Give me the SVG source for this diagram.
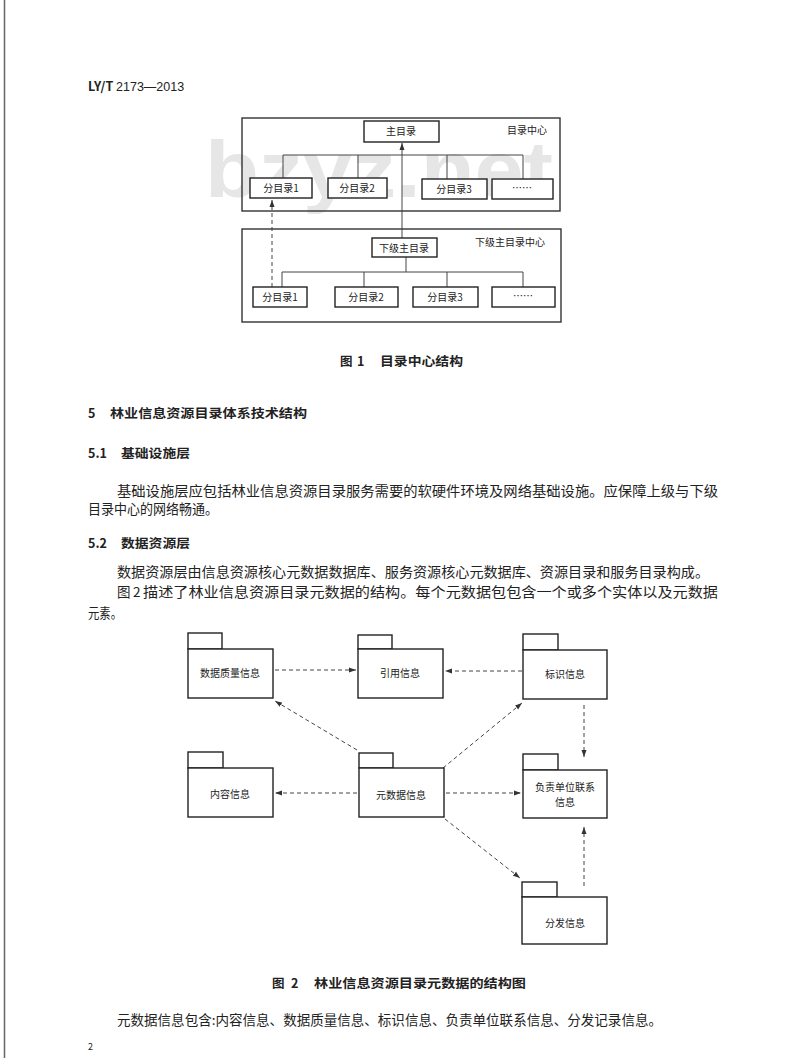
<svg xmlns="http://www.w3.org/2000/svg" width="800" height="1058" viewBox="0 0 800 1058">
<style>
.bg{fill:#ffffff}
.box{fill:#ffffff;stroke:#222;stroke-width:1.4}
.frame{fill:none;stroke:#333;stroke-width:1.4}
.ln{fill:none;stroke:#444;stroke-width:1}
.dash{fill:none;stroke:#444;stroke-width:1;stroke-dasharray:4 3}
.t{font-family:"Noto Sans CJK SC","Liberation Sans",sans-serif;fill:#222}
.s{font-size:10px}
.b{font-size:13.5px}
.h{font-size:12.5px;font-weight:bold}
.wm{font-family:"Liberation Sans",sans-serif;font-weight:bold;font-size:80px;fill:#e6e6e6}
</style>
<defs>
<marker id="ah" markerWidth="8" markerHeight="6" refX="7" refY="3" orient="auto" markerUnits="userSpaceOnUse">
<path d="M0,0.5 L7,3 L0,5.5 Z" fill="#333"/>
</marker>
</defs>
<rect class="bg" x="0" y="0" width="800" height="1058"/>
<line x1="4.5" y1="0" x2="4.5" y2="1058" stroke="#666" stroke-width="1.5"/>
<text class="t" x="88" y="91" font-size="12.5" font-family="Liberation Serif" font-weight="bold">LY/T <tspan font-weight="normal" font-family="Liberation Sans">2173—2013</tspan></text>
<text class="wm" x="205" y="197" textLength="348" lengthAdjust="spacingAndGlyphs">bzyz.net</text>

<!-- Figure 1 -->
<g id="fig1-top">
<rect class="frame" x="242" y="118" width="318" height="93"/>
<text class="t s" x="507" y="134">目录中心</text>
</g>
<g id="fig1-bottom">
<rect class="frame" x="242" y="229" width="319" height="93"/>
<text class="t s" x="475" y="246">下级主目录中心</text>
</g>
<g id="connectors-fig1">
<path class="ln" d="M283,155 H523 M283,155 V178 M358,155 V178 M447,155 V179 M523,155 V179"/>
<path class="ln" d="M406,257 V272 M282,272 H523 M282,272 V287 M364,272 V287 M447,272 V287 M523,272 V287"/>
<line class="ln" x1="402" y1="238" x2="402" y2="143" marker-end="url(#ah)"/>
<line class="dash" x1="272" y1="287" x2="272" y2="200" marker-end="url(#ah)"/>
</g>
<g id="n-main"><rect class="box" x="364" y="121" width="75" height="21"/><text class="t s" x="401" y="135" text-anchor="middle">主目录</text></g>
<g id="n-sub1"><rect class="box" x="250" y="178" width="62" height="20"/><text class="t s" x="281" y="192" text-anchor="middle">分目录1</text></g>
<g id="n-sub2"><rect class="box" x="328" y="178" width="59" height="20"/><text class="t s" x="357" y="192" text-anchor="middle">分目录2</text></g>
<g id="n-sub3"><rect class="box" x="422" y="179" width="65" height="20"/><text class="t s" x="454" y="193" text-anchor="middle">分目录3</text></g>
<g id="n-sub4"><rect class="box" x="492" y="179" width="61" height="20"/><text class="t s" x="522" y="192" text-anchor="middle">……</text></g>
<g id="n-lmain"><rect class="box" x="372" y="238" width="65" height="19"/><text class="t s" x="404" y="252" text-anchor="middle">下级主目录</text></g>
<g id="n-lsub1"><rect class="box" x="253" y="287" width="54" height="20"/><text class="t s" x="280" y="301" text-anchor="middle">分目录1</text></g>
<g id="n-lsub2"><rect class="box" x="335" y="287" width="63" height="20"/><text class="t s" x="366" y="301" text-anchor="middle">分目录2</text></g>
<g id="n-lsub3"><rect class="box" x="413" y="287" width="65" height="20"/><text class="t s" x="445" y="301" text-anchor="middle">分目录3</text></g>
<g id="n-lsub4"><rect class="box" x="492" y="287" width="63" height="20"/><text class="t s" x="523" y="300" text-anchor="middle">……</text></g>

<text class="t h" y="366"><tspan x="340">图</tspan><tspan x="357">1</tspan><tspan x="380" textLength="83" lengthAdjust="spacingAndGlyphs">目录中心结构</tspan></text>

<text class="t h" y="418"><tspan x="88">5</tspan><tspan x="110" textLength="197" lengthAdjust="spacingAndGlyphs">林业信息资源目录体系技术结构</tspan></text>
<text class="t h" y="458"><tspan x="88">5.1</tspan><tspan x="121" textLength="69" lengthAdjust="spacingAndGlyphs">基础设施层</tspan></text>
<text class="t b" x="117" y="496" textLength="601" lengthAdjust="spacingAndGlyphs">基础设施层应包括林业信息资源目录服务需要的软硬件环境及网络基础设施。应保障上级与下级</text>
<text class="t b" x="88" y="514" textLength="130" lengthAdjust="spacingAndGlyphs">目录中心的网络畅通。</text>
<text class="t h" y="548"><tspan x="88">5.2</tspan><tspan x="121" textLength="69" lengthAdjust="spacingAndGlyphs">数据资源层</tspan></text>
<text class="t b" x="117" y="577" textLength="592" lengthAdjust="spacingAndGlyphs">数据资源层由信息资源核心元数据数据库、服务资源核心元数据库、资源目录和服务目录构成。</text>
<text class="t b" y="597"><tspan x="117">图</tspan><tspan x="133">2</tspan><tspan x="143" textLength="575" lengthAdjust="spacingAndGlyphs">描述了林业信息资源目录元数据的结构。每个元数据包包含一个或多个实体以及元数据</tspan></text>
<text class="t b" x="88" y="618" textLength="34" lengthAdjust="spacingAndGlyphs">元素。</text>

<!-- Figure 2 -->
<g id="connectors-fig2">
<line class="dash" x1="275" y1="670" x2="356" y2="670" marker-end="url(#ah)"/>
<line class="dash" x1="522" y1="671" x2="445" y2="671" marker-end="url(#ah)"/>
<line class="dash" x1="357" y1="750" x2="275" y2="701" marker-end="url(#ah)"/>
<line class="dash" x1="443" y1="768" x2="522" y2="703" marker-end="url(#ah)"/>
<line class="dash" x1="584" y1="705" x2="584" y2="757" marker-end="url(#ah)"/>
<line class="dash" x1="357" y1="793" x2="275" y2="793" marker-end="url(#ah)"/>
<line class="dash" x1="446" y1="793" x2="521" y2="793" marker-end="url(#ah)"/>
<line class="dash" x1="445" y1="819" x2="520" y2="878" marker-end="url(#ah)"/>
<line class="dash" x1="584" y1="886" x2="584" y2="827" marker-end="url(#ah)"/>
</g>
<g id="p-quality"><rect class="box" x="188" y="633" width="34" height="16"/><rect class="box" x="188" y="649" width="85" height="49"/><text class="t s" x="230" y="677" text-anchor="middle">数据质量信息</text></g>
<g id="p-cite"><rect class="box" x="358" y="635" width="34" height="14"/><rect class="box" x="358" y="649" width="85" height="49"/><text class="t s" x="400" y="677" text-anchor="middle">引用信息</text></g>
<g id="p-ident"><rect class="box" x="523" y="634" width="35" height="16"/><rect class="box" x="523" y="650" width="84" height="49"/><text class="t s" x="565" y="678" text-anchor="middle">标识信息</text></g>
<g id="p-content"><rect class="box" x="188" y="752" width="35" height="16"/><rect class="box" x="188" y="768" width="85" height="49"/><text class="t s" x="230" y="798" text-anchor="middle">内容信息</text></g>
<g id="p-meta"><rect class="box" x="359" y="753" width="34" height="15"/><rect class="box" x="359" y="768" width="85" height="49"/><text class="t s" x="401" y="799" text-anchor="middle">元数据信息</text></g>
<g id="p-contact"><rect class="box" x="523" y="754" width="35" height="16"/><rect class="box" x="523" y="770" width="84" height="48"/><text class="t s" x="565" y="791" text-anchor="middle">负责单位联系</text><text class="t s" x="565" y="806" text-anchor="middle">信息</text></g>
<g id="p-dist"><rect class="box" x="522" y="882" width="35" height="15"/><rect class="box" x="522" y="897" width="85" height="47"/><text class="t s" x="565" y="927" text-anchor="middle">分发信息</text></g>

<text class="t h" y="988"><tspan x="272">图</tspan><tspan x="291">2</tspan><tspan x="314" textLength="212" lengthAdjust="spacingAndGlyphs">林业信息资源目录元数据的结构图</tspan></text>
<text class="t b" x="117" y="1025" textLength="545" lengthAdjust="spacingAndGlyphs">元数据信息包含:内容信息、数据质量信息、标识信息、负责单位联系信息、分发记录信息。</text>
<text class="t" x="88" y="1050" font-size="9">2</text>
</svg>
